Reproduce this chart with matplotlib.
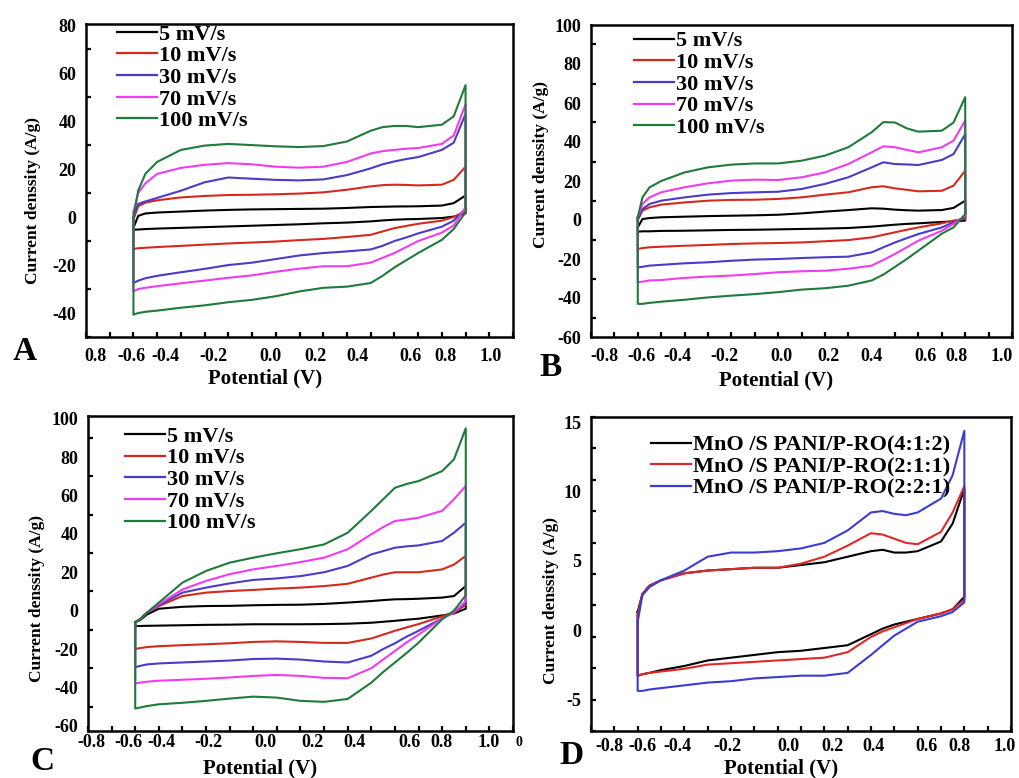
import numpy as np
import matplotlib.pyplot as plt
from matplotlib.lines import Line2D

plt.rcParams['font.family'] = ['Liberation Serif', 'DejaVu Serif']
plt.rcParams['font.weight'] = 'bold'

W, H = 1019, 778

# potential grid (V) shared by all loops, anodic sweep order
volt = [-0.6, -0.58, -0.55, -0.5, -0.4, -0.3, -0.2, -0.1, 0.0, 0.1, 0.2,
        0.3, 0.4, 0.45, 0.5, 0.55, 0.6, 0.7, 0.75, 0.8]

rate_labels = ['5 mV/s', '10 mV/s', '30 mV/s', '70 mV/s', '100 mV/s']
rate_colors = ['black', '#d42a1e', '#4a3cc8', '#f03cf0', '#1f7a3c']
ratio_labels = ['MnO /S PANI/P-RO(4:1:2)', 'MnO /S PANI/P-RO(2:1:1)', 'MnO /S PANI/P-RO(2:2:1)']
ratio_colors = ['black', '#e02828', '#3c3cd0']

# panel A: upper (anodic) and lower (cathodic) branches, A/g
a_up_5 = [-4.5, 0.5, 1.5, 1.9, 2.3, 2.7, 3.0, 3.2, 3.3, 3.4, 3.5, 3.8, 4.2, 4.3, 4.4, 4.45, 4.5, 4.8, 5.8, 9.0]
a_dn_5 = [-5.3, -5.2, -5.0, -4.8, -4.5, -4.2, -3.9, -3.6, -3.3, -3.0, -2.6, -2.3, -1.8, -1.4, -1.1, -0.9, -0.8, -0.4, 0.2, 1.5]
a_up_10 = [-1, 4.5, 6, 7, 8.2, 8.8, 9.2, 9.3, 9.5, 9.8, 10.3, 11.4, 12.8, 13.3, 13.5, 13.4, 13.2, 13.5, 15.5, 21]
a_dn_10 = [-13.3, -13, -12.8, -12.5, -12, -11.5, -11, -10.6, -10.2, -9.6, -9.1, -8.3, -7.4, -6, -4.6, -3.7, -2.8, -1.5, 0, 2.5]
a_up_30 = [0, 5.5, 6.5, 8, 11, 14.5, 16.5, 16, 15.5, 15.3, 15.7, 17.5, 20.3, 22, 23.2, 24.2, 25, 28, 31, 43]
a_dn_30 = [-27.5, -26.5, -25.5, -24.5, -23, -21.6, -20, -19, -17.5, -16, -15, -14.3, -13.5, -12, -10, -8.5, -6.8, -4, -1.5, 3.5]
a_up_70 = [2, 10, 14, 18, 20.5, 21.8, 22.5, 22, 21, 20.6, 21, 23, 26.5, 27.5, 28, 28.5, 28.8, 30.5, 34, 47]
a_dn_70 = [-31, -30, -29.5, -28.8, -27.6, -26.5, -25.3, -24.3, -22.8, -21.5, -20.5, -20.5, -19, -17, -15, -12.5, -10, -6.5, -3.5, 4]
a_up_100 = [0, 11, 18, 23, 28, 29.8, 30.5, 30, 29.5, 29.2, 29.6, 31.5, 36, 37.5, 38, 38, 37.5, 38.5, 42, 55]
a_dn_100 = [-40.7, -40, -39.5, -39, -37.8, -36.8, -35.5, -34.5, -33, -31, -29.5, -29, -27.5, -24.5, -21, -18, -15, -9.5, -5, 2]

# panel B
b_up_5 = [-3.8, 0.5, 1.0, 1.4, 1.7, 2.0, 2.2, 2.4, 2.7, 3.4, 4.3, 5.1, 6.0, 5.8, 5.3, 5.0, 4.8, 5.1, 6.2, 9.9]
b_dn_5 = [-6.0, -5.8, -5.8, -5.6, -5.5, -5.3, -5.1, -5.0, -4.8, -4.6, -4.4, -4.1, -3.4, -2.9, -2.4, -2.0, -1.7, -1.0, -0.7, -0.3]
b_up_10 = [0, 4.8, 6.5, 7.9, 9.0, 9.9, 10.3, 10.4, 10.8, 11.6, 13, 14.2, 16.8, 17.3, 16.2, 15.5, 14.7, 15, 17.6, 25.3]
b_dn_10 = [-14.9, -14.4, -14, -13.7, -13.2, -12.8, -12.3, -12, -11.8, -11.5, -10.9, -10.3, -8.9, -7.6, -6.3, -5, -3.8, -1.7, -0.3, 0.5]
b_up_30 = [0.5, 5.6, 8.2, 9.9, 11.6, 13, 13.8, 14.2, 14.5, 15.9, 18.5, 21.9, 27, 29.6, 28.7, 28.5, 28.2, 30.8, 33.8, 44]
b_dn_30 = [-24.3, -24, -23.4, -23, -22.2, -21.7, -20.9, -20.3, -20, -19.5, -19.1, -18.8, -16.6, -14, -11.5, -9.3, -7.2, -3.8, -1.2, 1.4]
b_up_70 = [1.4, 8.2, 11.6, 14.2, 16.8, 18.8, 20.2, 20.7, 20.5, 21.9, 24.4, 28.7, 34.7, 37.8, 37.3, 36, 34.7, 37.3, 40.7, 51]
b_dn_70 = [-32, -31.6, -31, -30.8, -29.7, -29, -28.5, -27.7, -26.8, -26.3, -26, -25, -23.4, -20.5, -17.4, -14, -10.6, -5.5, -2, 2.2]
b_up_100 = [1.4, 11.6, 16.7, 20, 24.4, 27, 28.4, 29, 29, 30.4, 33, 37.3, 45, 50.2, 50, 47, 45.3, 45.8, 50, 63]
b_dn_100 = [-43, -43, -42.5, -41.9, -40.9, -39.7, -38.8, -38, -37, -35.7, -35, -33.7, -31, -28, -24, -20, -15.7, -7, -3.8, 3]

# panel C
c_up_5 = [-6, -5, -2, 1, 2, 2.4, 2.5, 2.8, 3, 3.1, 3.5, 4.2, 5, 5.5, 5.9, 6, 6.2, 6.8, 7.6, 12.8]
c_dn_5 = [-8, -8, -7.9, -7.8, -7.6, -7.4, -7.3, -7.1, -7.1, -7.1, -7, -6.8, -6.3, -5.8, -5.3, -4.7, -4.2, -2.5, -1.5, 1]
c_up_10 = [-6, -4.5, -1, 2.4, 7.6, 9.4, 10.2, 10.8, 11.5, 12, 12.8, 14, 17.2, 18.8, 20, 20, 20, 21.5, 24, 28.5]
c_dn_10 = [-20, -19.5, -19, -18.5, -18, -17.5, -17, -16.3, -16, -16.3, -16.8, -16.8, -14.5, -12.5, -10.5, -8.7, -7, -3, -1, 3]
c_up_30 = [-6, -4.5, -1, 2.8, 9.4, 12, 14.2, 16, 16.8, 18, 20, 23.3, 29.3, 31, 32.8, 33.5, 34, 36.3, 40.6, 45.8]
c_dn_30 = [-29.5, -28.8, -28, -27.5, -27, -26.5, -26, -25.2, -25, -25.5, -26.5, -27, -23.5, -20, -17, -13.5, -10.5, -4, -1, 4]
c_up_70 = [-6, -4.5, -1, 3.3, 11, 15.5, 19, 21.5, 23.3, 25.3, 27.6, 32, 39.8, 43.5, 46.7, 47.5, 48.4, 52, 58, 65]
c_dn_70 = [-38, -37.5, -37, -36.5, -36, -35.5, -34.8, -34, -33.5, -34, -35, -35.2, -30, -25.5, -21, -16.5, -12.5, -4, -1, 5]
c_up_100 = [-6, -4.5, -1, 4.2, 14.6, 20.7, 25, 27.6, 29.9, 32, 34.5, 40.6, 52, 58, 64, 66, 67.5, 72.7, 78.8, 95]
c_dn_100 = [-51, -50.5, -49.7, -48.8, -48, -47, -45.8, -44.8, -45.3, -47, -47.5, -46, -37.5, -32, -27, -22, -16.7, -4.5, 0, 8]

# panel D
d_up_412 = [1.3, 2.6, 3.2, 3.6, 4.1, 4.3, 4.4, 4.5, 4.5, 4.7, 4.9, 5.3, 5.7, 5.8, 5.6, 5.6, 5.7, 6.4, 7.7, 10.2]
d_dn_412 = [-3.3, -3.2, -3.1, -2.9, -2.6, -2.2, -2.0, -1.8, -1.6, -1.5, -1.3, -1.1, -0.3, 0.1, 0.4, 0.6, 0.8, 1.2, 1.5, 2.4]
d_up_211 = [1.05, 2.6, 3.2, 3.6, 4.1, 4.3, 4.4, 4.5, 4.5, 4.8, 5.3, 6.1, 7.0, 6.9, 6.6, 6.3, 6.2, 7.1, 8.5, 10.4]
d_dn_211 = [-3.3, -3.2, -3.1, -3.0, -2.8, -2.5, -2.4, -2.3, -2.2, -2.1, -2.0, -1.6, -0.5, -0.1, 0.2, 0.5, 0.8, 1.2, 1.5, 2.2]
d_up_221 = [0.6, 2.5, 3.1, 3.6, 4.3, 5.3, 5.6, 5.6, 5.7, 5.9, 6.3, 7.2, 8.5, 8.6, 8.4, 8.3, 8.5, 9.5, 11.2, 14.4]
d_dn_221 = [-4.4, -4.4, -4.3, -4.2, -4.0, -3.8, -3.7, -3.5, -3.4, -3.3, -3.3, -3.1, -1.8, -1.1, -0.4, 0.1, 0.6, 1.0, 1.3, 2.0]

# tick labels as printed (their placement on the figure is off-scale)
xlab_a = ['0.8', '-0.6', '-0.4', '-0.2', '0.0', '0.2', '0.4', '0.6', '0.8', '1.0']
xlab_bcd = ['-0.8', '-0.6', '-0.4', '-0.2', '0.0', '0.2', '0.4', '0.6', '0.8', '1.0']
ylab_a = [80, 60, 40, 20, 0, -20, -40]
ylab_bc = [100, 80, 60, 40, 20, 0, -20, -40, -60]
ylab_d = [15, 10, 5, 0, -5]

fig = plt.figure(figsize=(W / 100, H / 100), dpi=100)


def px_axes(l, t, r, b):
    return fig.add_axes([l / W, 1 - b / H, (r - l) / W, (b - t) / H])


def draw_cv(ax, up, dn, color):
    x = volt + volt[::-1] + [volt[0]]
    y = up + dn[::-1] + [up[0]]
    ax.plot(x, y, color=color, lw=1.5)


def style(ax, ylim, xpos, xtxt, ylab, yminor, xpad=8):
    ax.set_xlim(-0.8, 1.0)
    ax.set_ylim(*ylim)
    ax.set_xticks(np.arange(-0.8, 1.01, 0.1), minor=True)
    ax.set_xticks(xpos, labels=xtxt)
    ax.set_yticks(yminor, minor=True)
    ax.set_yticks(ylab, labels=[str(v) for v in ylab])
    ax.tick_params(which='major', length=0, labelsize=13)
    ax.tick_params(axis='x', which='major', pad=xpad)
    ax.tick_params(axis='y', which='major', pad=7)
    ax.tick_params(which='minor', direction='in', length=3.5, width=1.6)
    for s in ax.spines.values():
        s.set_linewidth(1.8)


def add_legend(ax, labels, colors, xa, ya):
    handles = [Line2D([], [], color=c, lw=1.6) for c in colors]
    ax.legend(handles, labels, loc='upper left', bbox_to_anchor=(xa, ya),
              frameon=False, fontsize=16, handlelength=1.8, handletextpad=0.1,
              labelspacing=0.05, borderpad=0, borderaxespad=0)


# A
ax = px_axes(86, 24, 513, 337)
for up, dn, c in zip([a_up_5, a_up_10, a_up_30, a_up_70, a_up_100],
                     [a_dn_5, a_dn_10, a_dn_30, a_dn_70, a_dn_100], rate_colors):
    draw_cv(ax, up, dn, c)
style(ax, (-50, 80.5),
      [-0.762, -0.607, -0.466, -0.262, -0.023, 0.168, 0.344, 0.569, 0.717, 0.907],
      xlab_a, ylab_a, np.arange(-50, 81, 10))
add_legend(ax, rate_labels, rate_colors, 0.073, 1.0)

# B
ax = px_axes(591, 25, 1012, 337)
for up, dn, c in zip([b_up_5, b_up_10, b_up_30, b_up_70, b_up_100],
                     [b_dn_5, b_dn_10, b_dn_30, b_dn_70, b_dn_100], rate_colors):
    draw_cv(ax, up, dn, c)
style(ax, (-60, 100),
      [-0.743, -0.586, -0.429, -0.229, 0.014, 0.214, 0.4, 0.629, 0.764, 0.957],
      xlab_bcd, ylab_bc, np.arange(-60, 101, 10))
add_legend(ax, rate_labels, rate_colors, 0.102, 0.981)

# C
ax = px_axes(88, 416, 513, 731)
for up, dn, c in zip([c_up_5, c_up_10, c_up_30, c_up_70, c_up_100],
                     [c_dn_5, c_dn_10, c_dn_30, c_dn_70, c_dn_100], rate_colors):
    draw_cv(ax, up, dn, c)
style(ax, (-62.7, 101.4),
      [-0.786, -0.630, -0.488, -0.289, -0.048, 0.150, 0.328, 0.562, 0.696, 0.895],
      xlab_bcd, ylab_bc, np.arange(-60, 101, 10), xpad=2)
add_legend(ax, rate_labels, rate_colors, 0.087, 0.968)

# D
ax = px_axes(591, 417, 1011, 731)
for up, dn, c in zip([d_up_412, d_up_211, d_up_221],
                     [d_dn_412, d_dn_211, d_dn_221], ratio_colors):
    draw_cv(ax, up, dn, c)
style(ax, (-7.3, 15.4),
      [-0.722, -0.579, -0.430, -0.216, 0.048, 0.233, 0.411, 0.639, 0.781, 0.973],
      xlab_bcd, ylab_d, np.linspace(-7.3, 15.4, 11), xpad=5)
add_legend(ax, ratio_labels, ratio_colors, 0.143, 0.943)


def ftext(x, y, s, **kw):
    fig.text(x / W, 1 - y / H, s, ha='center', va='center', **kw)


for x, y, s in [(25, 352, 'A'), (551, 367, 'B'), (42, 761, 'C'), (571, 755, 'D')]:
    ftext(x, y, s, fontsize=24)
for x, y in [(265, 378), (776, 380), (260, 768), (781, 768)]:
    ftext(x, y, 'Potential (V)', fontsize=15)
for x, y in [(33, 200), (541, 165), (37, 598), (551, 601)]:
    ftext(x, y, 'Current denssity (A/g)', fontsize=12.5, rotation=90)
ftext(519, 743, '0', fontsize=10)

fig.savefig('out.png', dpi=100)
